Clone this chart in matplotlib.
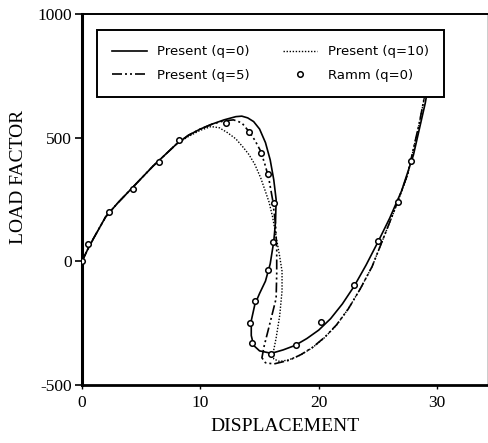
import matplotlib

matplotlib.use("Agg")
import matplotlib.pyplot as plt

# ---- data ----
# Present (q=0), solid
x_q0 = [0, 0.5, 1, 2, 3, 4, 5, 6, 7, 8, 9, 10, 11, 12, 13, 13.5, 14, 14.5, 15,
        15.5, 15.9, 16.2, 16.4, 16.35, 16.2, 15.9, 15.5, 15.0, 14.6, 14.3, 14.3,
        14.5, 15, 16, 17, 18, 19, 20, 21, 22, 23, 24, 25, 26, 27, 28, 29, 29.5]
y_q0 = [0, 50, 95, 180, 235, 285, 335, 385, 430, 475, 510, 535, 555, 572, 585,
        587, 580, 565, 535, 480, 410, 330, 250, 160, 80, -10, -80, -130, -175,
        -240, -300, -340, -362, -372, -358, -340, -312, -278, -232, -172, -100,
        -15, 78, 175, 285, 430, 640, 780]

# Present (q=5), dash-dot-dot
x_q5 = [0, 0.5, 1, 2, 3, 4, 5, 6, 7, 8, 9, 10, 11, 12, 12.8, 13.5, 14.1, 14.6,
        15.1, 15.5, 15.8, 16.1, 16.35, 16.45, 16.45, 16.4, 15.8, 15.4, 15.2, 15.5,
        16.2, 17.5, 18.5, 19.5, 20.5, 21.5, 22.5, 23.5, 24.5, 25.5, 26.5, 27.5,
        28.5, 29.4]
y_q5 = [0, 50, 95, 180, 235, 285, 335, 385, 430, 475, 510, 535, 555, 568, 572,
        560, 525, 490, 445, 385, 330, 250, 150, 50, -50, -150, -265, -340, -390,
        -410, -415, -400, -377, -347, -307, -257, -192, -112, -22, 98, 220, 350,
        560, 780]

# Present (q=10), dotted
x_q10 = [0, 0.5, 1, 2, 3, 4, 5, 6, 7, 8, 9, 10, 10.9, 11.6, 12.3, 13.0, 13.6,
         14.1, 14.6, 15.1, 15.5, 15.8, 16.1, 16.4, 16.7, 16.9, 16.9, 16.7, 16.4,
         16.15, 16.2, 16.7, 17.5, 18.5, 19.5, 20.5, 21.5, 22.5, 23.5, 24.5, 25.5,
         26.5, 27.5, 28.5, 29.4]
y_q10 = [0, 50, 95, 180, 235, 285, 335, 385, 430, 475, 505, 530, 545, 540, 520,
         495, 462, 432, 392, 337, 282, 240, 180, 100, 20, -40, -120, -220, -310,
         -370, -395, -405, -398, -378, -348, -308, -258, -192, -112, -22, 98, 218,
         348, 558, 780]

# Ramm (q=0), open circles
x_ramm = [0, 0.5, 2.3, 4.3, 6.5, 8.2, 12.2, 14.1, 15.1, 15.7, 16.2, 16.1, 15.7,
          14.6, 14.2, 14.4, 16.0, 18.1, 20.2, 23.0, 25.0, 26.7, 27.8]
y_ramm = [0, 71, 200, 291, 400, 492, 560, 522, 440, 355, 235, 78, -37, -159,
          -248, -330, -374, -338, -244, -94, 81, 239, 404]

x_ticks = [0, 10, 20, 30]
y_ticks = [-500, 0, 500, 1000]

SERIF = "Liberation Serif"

fig = plt.figure(figsize=(4.89, 4.43), dpi=100)
ax = fig.add_axes([82 / 489, 58 / 443, 406 / 489, 371 / 443])

dashdotdot = (0, (6, 1.8, 1.2, 1.8, 1.2, 1.8))
ax.plot(x_q0, y_q0, color="black", lw=1.2, label="Present (q=0)")
ax.plot(x_q5, y_q5, color="black", lw=1.2, linestyle=dashdotdot, label="Present (q=5)")
ax.plot(x_q10, y_q10, color="black", lw=1.0, linestyle=(0, (1, 1.2)), label="Present (q=10)")
ax.plot(x_ramm, y_ramm, linestyle="none", marker="o", ms=4, mfc="white",
        mec="black", mew=1.1, label="Ramm (q=0)", zorder=4)

ax.set_xlim(0, 34.3)
ax.set_ylim(-500, 1000)
ax.set_xticks(x_ticks)
ax.set_yticks(y_ticks)
ax.set_xticklabels([str(t) for t in x_ticks], fontfamily=SERIF, fontsize=12.5)
ax.set_yticklabels([str(t) for t in y_ticks], fontfamily=SERIF, fontsize=12.5)
ax.tick_params(axis="y", direction="out", length=5, width=1.2, pad=2)
ax.tick_params(axis="x", direction="out", length=3, width=1.0, pad=4)

for side, lw in [("left", 2.2), ("bottom", 2.0), ("top", 1.4), ("right", 1.0)]:
    ax.spines[side].set_linewidth(lw)

ax.set_xlabel("DISPLACEMENT", fontfamily=SERIF, fontsize=14, labelpad=5)
ax.set_ylabel("LOAD FACTOR", fontfamily=SERIF, fontsize=14)
ax.yaxis.set_label_coords(-0.135, 0.56)

leg = ax.legend(ncol=2, loc="upper left", bbox_to_anchor=(0.037, 0.957),
                borderaxespad=0, fancybox=False, framealpha=1, edgecolor="black",
                prop={"family": "DejaVu Sans", "size": 9.5}, handlelength=2.6,
                columnspacing=2.5, borderpad=1.15, labelspacing=0.8,
                handletextpad=0.8)
leg.get_frame().set_linewidth(1.4)
leg.set_zorder(5)

fig.savefig("out.png", dpi=100)
